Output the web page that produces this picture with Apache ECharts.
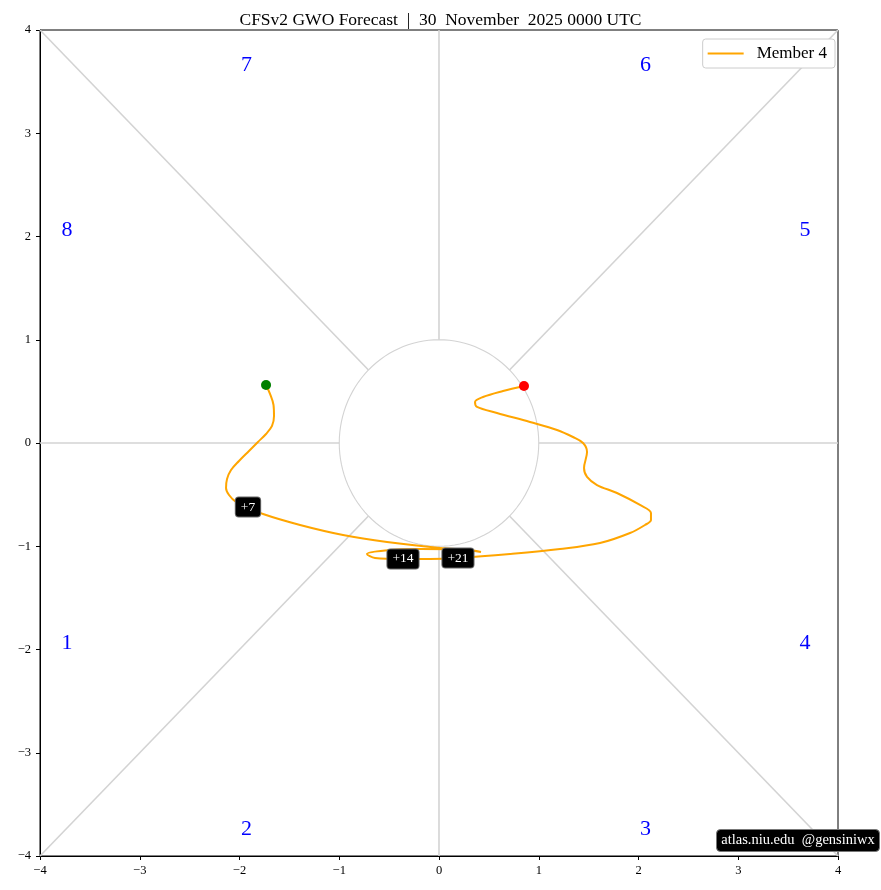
<!DOCTYPE html>
<html><head><meta charset="utf-8">
<script src="https://cdn.jsdelivr.net/npm/echarts@6/dist/echarts.min.js"></script>
<style>html,body{margin:0;padding:0;background:#fff}#c{width:881px;height:890px}</style>
</head><body><div id="c"></div>
<script>
// ---- data ----
const trackX = [-1.734,-1.694,-1.659,-1.654,-1.674,-1.734,-1.815,-1.905,-2.005,-2.085,-2.125,-2.135,-2.105,-2.035,-1.915,-1.764,-1.393,-0.962,-0.521,0.010,0.311,0.421,0.211,-0.190,-0.541,-0.722,-0.642,-0.361,-0.090,0.190,0.712,1.213,1.614,1.915,2.065,2.125,2.125,2.015,1.784,1.584,1.484,1.454,1.484,1.444,1.343,1.183,0.912,0.581,0.381,0.361,0.441,0.642,0.852];
const trackY = [0.562,0.475,0.368,0.261,0.165,0.087,0.010,-0.077,-0.174,-0.262,-0.349,-0.436,-0.504,-0.571,-0.620,-0.688,-0.794,-0.891,-0.959,-1.017,-1.036,-1.055,-1.031,-1.027,-1.041,-1.075,-1.114,-1.123,-1.123,-1.114,-1.075,-1.027,-0.969,-0.872,-0.794,-0.746,-0.678,-0.600,-0.484,-0.407,-0.329,-0.242,-0.087,0.000,0.058,0.126,0.203,0.291,0.349,0.397,0.446,0.504,0.552];
const dayLabels = ['+7','+14','+21'];
const dayX = [-1.915,-0.361,0.190];
const dayY = [-0.620,-1.123,-1.114];
const phaseNames = ['1','2','3','4','5','6','7','8'];
const phaseX = [-3.73,-1.93,2.07,3.67,3.67,2.07,-1.93,-3.73];
const phaseY = [-1.94,-3.74,-3.74,-1.94,2.06,3.66,3.66,2.06];
const ticks = [-4,-3,-2,-1,0,1,2,3,4];
const seriesName = 'Member 4';
const titleText = 'CFSv2 GWO Forecast  |  30  November  2025 0000 UTC';
const creditText = 'atlas.niu.edu  @gensiniwx';

// ---- build ----
const FONT = '"Liberation Serif", "DejaVu Serif", serif';
const track = trackX.map((x,i)=>[x,trackY[i]]);
const r = Math.SQRT1_2;
const refSegs = [
  [[-4,0],[-1,0]],[[1,0],[4,0]],[[0,-4],[0,-1]],[[0,1],[0,4]],
  [[-4,-4],[-r,-r]],[[r,r],[4,4]],[[-4,4],[-r,r]],[[r,-r],[4,-4]]
];
const circle = [];
for (let a=0;a<=360;a+=3){const t=a*Math.PI/180;circle.push([Math.cos(t),Math.sin(t)]);}
const fmt = v => String(v).replace('-','\u2212');

const chart = echarts.init(document.getElementById('c'));
chart.setOption({
  animation:false,
  title:{text:titleText,left:'center',top:6,textStyle:{fontFamily:FONT,fontWeight:'normal',fontSize:17.5,color:'#000'}},
  legend:{data:[{name:seriesName,icon:'rect'}],right:46,top:39,itemWidth:36,itemHeight:2,itemGap:8,
    borderColor:'#cccccc',borderWidth:1,borderRadius:3,padding:[6,8,6,5],backgroundColor:'#fff',
    textStyle:{fontFamily:FONT,fontSize:17,color:'#000',padding:[0,0,0,8]}},
  grid:{left:40,right:43,top:30,bottom:34,show:true,borderColor:'#000',borderWidth:1},
  xAxis:{type:'value',min:-4,max:4,interval:1,
    axisLine:{onZero:false,lineStyle:{color:'#000'}},axisTick:{show:true,length:4,lineStyle:{color:'#000'}},
    splitLine:{show:false},axisLabel:{formatter:fmt,fontFamily:FONT,fontSize:12.5,color:'#000',margin:8}},
  yAxis:{type:'value',min:-4,max:4,interval:1,
    axisLine:{show:true,onZero:false,lineStyle:{color:'#000'}},axisTick:{show:true,length:4,lineStyle:{color:'#000'}},
    splitLine:{show:false},axisLabel:{formatter:fmt,fontFamily:FONT,fontSize:12.5,color:'#000',margin:9}},
  series:[
    {type:'lines',coordinateSystem:'cartesian2d',silent:true,z:1,
     lineStyle:{color:'#d3d3d3',width:1.6,opacity:1},data:refSegs.map(c=>({coords:c}))},
    {type:'lines',coordinateSystem:'cartesian2d',polyline:true,silent:true,z:1,
     lineStyle:{color:'#d3d3d3',width:1.1,opacity:1},data:[{coords:circle}]},
    {type:'scatter',symbolSize:0,silent:true,z:2,itemStyle:{opacity:1},
     label:{show:true,position:'inside',formatter:p=>p.name,color:'#0000ff',fontFamily:FONT,fontSize:22},
     data:phaseNames.map((n,i)=>({name:n,value:[phaseX[i],phaseY[i]]}))},
    {name:seriesName,type:'line',smooth:0.35,showSymbol:false,z:3,
     lineStyle:{color:'#FFA500',width:2},itemStyle:{color:'#FFA500'},data:track},
    {type:'scatter',symbolSize:10,z:5,itemStyle:{color:'#008000',opacity:1},data:[track[0]]},
    {type:'scatter',symbolSize:10,z:5,itemStyle:{color:'#ff0000',opacity:1},data:[track[track.length-1]]},
    {type:'scatter',symbolSize:0,z:6,itemStyle:{opacity:1},
     label:{show:true,position:'inside',formatter:p=>p.name,color:'#fff',fontFamily:FONT,fontSize:13.5,
       backgroundColor:'#000',borderColor:'#666',borderWidth:1,borderRadius:3,padding:[3,5,2,5]},
     data:dayLabels.map((n,i)=>({name:n,value:[dayX[i],dayY[i]]}))}
  ],
  graphic:[{type:'group',left:716,top:829,z:100,children:[
    {type:'rect',z:100,shape:{x:0,y:0,width:163,height:22,r:4},style:{fill:'#000',stroke:'#777'}},
    {type:'text',z:101,x:81.5,y:11,style:{text:creditText,fill:'#fff',font:'14.5px '+FONT,textAlign:'center',textVerticalAlign:'middle'}}
  ]}]
});
</script></body></html>
